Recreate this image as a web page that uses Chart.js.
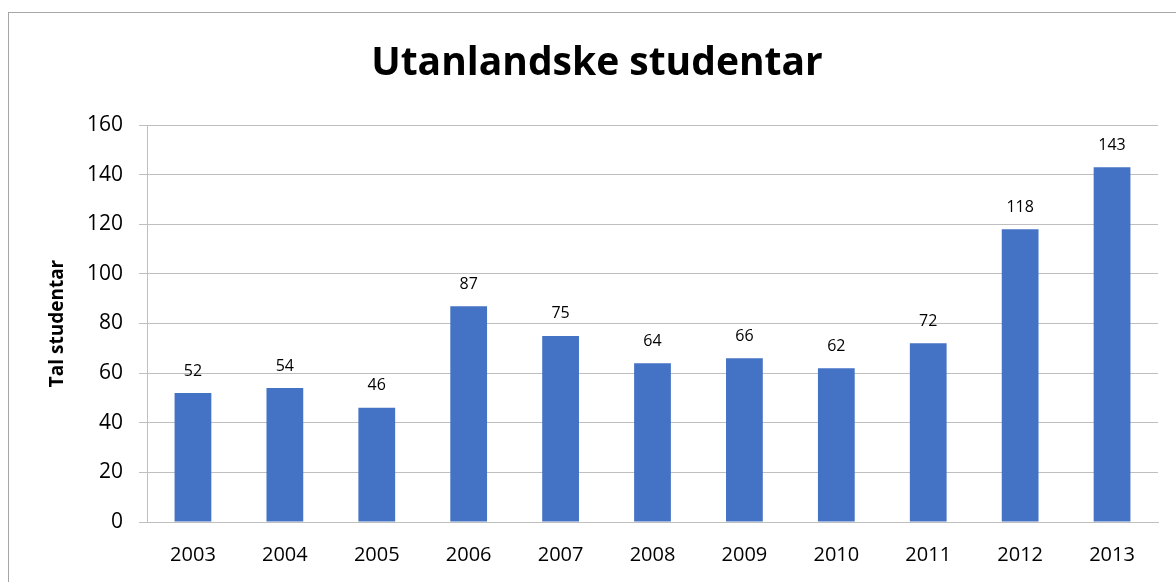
<!DOCTYPE html>
<html lang="nn">
<head>
<meta charset="UTF-8">
<title>Utanlandske studentar</title>
<script src="https://cdn.jsdelivr.net/npm/chart.js"></script>
<style>
  html, body { margin: 0; padding: 0; background: #fff; }
  #wrap { width: 1176px; height: 582px; }
</style>
</head>
<body>
<div id="wrap"><canvas id="chart"></canvas></div>
<script>
// data
const years = ['2003', '2004', '2005', '2006', '2007', '2008', '2009', '2010', '2011', '2012', '2013'];
const students = [52, 54, 46, 87, 75, 64, 66, 62, 72, 118, 143];
const chartTitle = 'Utanlandske studentar';

const FONT = "'Open Sans', 'Noto Sans', sans-serif";

// outer frame, title and value labels above bars
const extras = {
  id: 'extras',
  beforeDraw(chart) {
    const ctx = chart.ctx;
    ctx.save();
    ctx.strokeStyle = '#a6a6a6';
    ctx.lineWidth = 1;
    ctx.strokeRect(8.5, 12.5, 1400, 800);
    // title is centred on the whole frame, not on the plot
    ctx.font = 'bold 39px ' + FONT;
    ctx.fillStyle = '#000';
    ctx.textAlign = 'center';
    ctx.textBaseline = 'middle';
    ctx.fillText(chartTitle, 597, 64);
    ctx.restore();
  },
  afterDatasetsDraw(chart) {
    const ctx = chart.ctx;
    const meta = chart.getDatasetMeta(0);
    ctx.save();
    ctx.font = '16px ' + FONT;
    ctx.fillStyle = '#000';
    ctx.textAlign = 'center';
    ctx.textBaseline = 'middle';
    meta.data.forEach((bar, i) => {
      ctx.fillText(students[i], bar.x, bar.y - 22);
    });
    ctx.restore();
  }
};

new Chart(document.getElementById('chart'), {
  type: 'bar',
  data: {
    labels: years,
    datasets: [{
      data: students,
      backgroundColor: '#4472C4',
      categoryPercentage: 0.8,
      barPercentage: 0.5
    }]
  },
  options: {
    responsive: true,
    maintainAspectRatio: false,
    animation: false,
    layout: { padding: { left: 0, right: 18, top: 125, bottom: 0 } },
    plugins: {
      legend: { display: false },
      tooltip: { enabled: false },
      title: { display: false }
    },
    scales: {
      x: {
        grid: { display: false, drawTicks: false },
        border: { display: true, color: '#bfbfbf' },
        ticks: { color: '#000', padding: 21, font: { family: FONT, size: 20 } },
        afterFit(s) { s.height = 60; }
      },
      y: {
        min: 0,
        max: 160,
        ticks: { stepSize: 20, color: '#000', padding: 16, font: { family: FONT, size: 21 } },
        grid: { color: '#bfbfbf', tickLength: 8 },
        border: { display: true, color: '#bfbfbf' },
        title: {
          display: true,
          text: 'Tal studentar',
          color: '#000',
          font: { family: FONT, size: 19, weight: 'bold' },
          padding: { top: 46 }
        },
        afterFit(s) { s.width = 147; }
      }
    }
  },
  plugins: [extras]
});
</script>
</body>
</html>
